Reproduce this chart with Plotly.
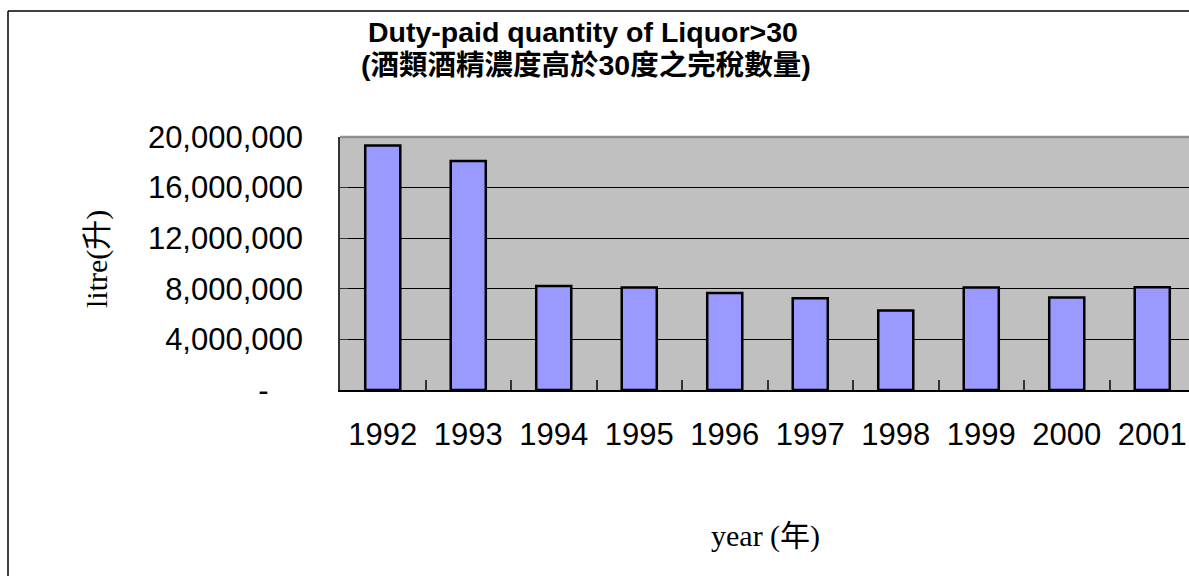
import plotly.graph_objects as go

years = ["1992", "1993", "1994", "1995", "1996", "1997", "1998", "1999", "2000", "2001"]
quantity = [19320000, 18110000, 8230000, 8100000, 7660000, 7260000, 6280000, 8100000, 7310000, 8130000]
ytick_vals = [0, 4000000, 8000000, 12000000, 16000000, 20000000]
ytick_text = ["-\u00a0\u00a0\u00a0\u00a0", "4,000,000", "8,000,000", "12,000,000", "16,000,000", "20,000,000"]

W, H = 1189, 576
L, T, B = 340, 137, 390
pw, ph = W - L, B - T

def px(x):  # page pixel -> paper
    return (x - L) / pw

def py(y):
    return (B - y) / ph

sans = "Liberation Sans, Arial, Noto Sans CJK TC"
serif = "Liberation Serif, Times New Roman, Noto Sans CJK TC"

fig = go.Figure(go.Bar(
    x=years, y=quantity, width=0.41,
    marker=dict(color="#9999FF", line=dict(color="black", width=2.5)),
))

fig.update_layout(
    width=W, height=H,
    margin=dict(l=L, r=0, t=T, b=H - B, pad=0),
    paper_bgcolor="white", plot_bgcolor="#C0C0C0",
    showlegend=False,
    xaxis=dict(
        type="category", range=[-0.5, -0.5 + pw / 85.5],
        showline=True, linecolor="black", linewidth=1.5,
        ticks="inside", tickson="boundaries", ticklen=10, tickcolor="#333333", tickwidth=1.5,
        tickfont=dict(family=sans, size=31, color="black"),
        ticklabelstandoff=16, showgrid=False,
    ),
    yaxis=dict(
        range=[0, 20000000], tickvals=ytick_vals, ticktext=ytick_text,
        showline=True, linecolor="#333333", linewidth=1.5,
        ticks="inside", ticklen=8, tickcolor="#333333",
        showgrid=True, gridcolor="black", gridwidth=1.2,
        tickfont=dict(family=sans, size=31, color="black"),
        ticklabelstandoff=29, zeroline=False,
    ),
    shapes=[
        dict(type="line", xref="paper", yref="paper", x0=0, x1=1.01, y0=1, y1=1,
             line=dict(color="#909090", width=2.5)),
        dict(type="line", xref="paper", yref="paper", x0=px(8), x1=px(8), y0=py(11), y1=py(600),
             line=dict(color="black", width=1.5)),
        dict(type="line", xref="paper", yref="paper", x0=px(8), x1=px(1200), y0=py(11), y1=py(11),
             line=dict(color="black", width=1.5)),
    ],
    annotations=[
        dict(text="<b>Duty-paid quantity of Liquor>30</b>", xref="paper", yref="paper",
             x=px(583), y=py(32), showarrow=False, xanchor="center", yanchor="middle",
             font=dict(family=sans, size=28.5, color="black")),
        dict(text="<b>(酒類酒精濃度高於30度之完稅數量)</b>", xref="paper", yref="paper",
             x=px(586), y=py(65), showarrow=False, xanchor="center", yanchor="middle",
             font=dict(family=sans, size=28.5, color="black")),
        dict(text="litre(升)", xref="paper", yref="paper", x=px(97), y=py(259),
             textangle=-90, showarrow=False, xanchor="center", yanchor="middle",
             font=dict(family=serif, size=30, color="black")),
        dict(text="year (年)", xref="paper", yref="paper", x=px(765), y=py(536),
             showarrow=False, xanchor="center", yanchor="middle",
             font=dict(family=serif, size=30, color="black")),
    ],
)

fig.write_html(
    "out.html",
    config={"displayModeBar": False},
    post_script="document.body.style.margin='0px';document.body.style.overflow='hidden';",
)
